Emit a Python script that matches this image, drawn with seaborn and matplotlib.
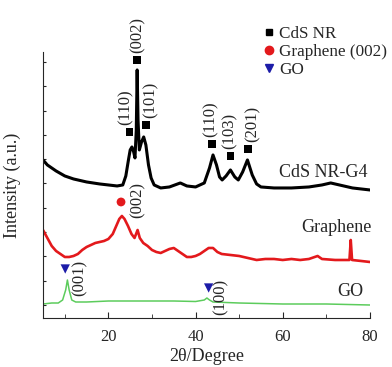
import numpy as np
import pandas as pd
import matplotlib
matplotlib.use("Agg")
import matplotlib.pyplot as plt
import seaborn as sns
from matplotlib.ticker import MultipleLocator
from matplotlib.lines import Line2D

sns.set_style("ticks")
plt.rcParams['font.family'] = ['Liberation Serif', 'DejaVu Serif']

# 2theta / intensity (arbitrary units, offset per curve)
tt_cds = [5, 6, 8, 10, 12, 15, 18, 20, 22, 23.3, 24.0, 24.6, 25.0, 25.4, 25.8, 26.1,
          26.4, 26.6, 26.8, 27.1, 27.6, 28.1, 28.6, 29.2, 29.8, 30.5, 32, 34, 36.5, 38,
          40, 42, 43.2, 44.0, 44.8, 45.5, 46.1, 47.0, 48.0, 49.0, 49.8, 50.8, 51.9, 53.0,
          54.0, 55, 58, 62, 66, 69, 71, 73, 76, 80]
int_cds = [158, 153, 147, 142, 139, 136, 134, 133, 132, 133, 142, 158, 168, 171, 166, 160,
           188, 248, 198, 168, 176, 181, 173, 153, 140, 133, 130, 131, 135, 132,
           131, 135, 150, 163, 153, 141, 138, 142, 148, 141, 138, 146, 158, 143,
           134, 131, 130, 130, 131, 133, 135, 133, 130, 128]

tt_gr = [5, 6, 7, 8, 9, 10, 11, 12, 13, 14, 15, 16, 17, 18, 19, 20, 21, 21.8, 22.5, 23.1,
         23.7, 24.5, 25.3, 26.0, 26.7, 27.2, 28, 29, 30, 31, 32, 33, 34, 35, 36, 37, 38,
         39, 40, 41, 42, 43, 44, 45, 46, 48, 50, 52, 54, 56, 58, 60, 62, 64, 66, 68, 69,
         72, 75.3, 75.6, 75.9, 78, 80]
int_gr = [88, 80, 72, 67, 64, 61, 61, 62, 64, 68, 71, 73, 75, 76, 77, 79, 84, 92, 99, 102,
          99, 92, 84, 80, 88, 80, 75, 72, 68, 66, 65, 67, 69, 70, 67, 64, 61,
          61, 62, 64, 67, 70, 70, 66, 64, 63, 62, 60, 58, 59, 59, 58, 59, 58, 59, 62, 59,
          58, 58, 78, 58, 57, 56]

tt_go = [5, 7, 8.5, 9.5, 10.2, 10.6, 11.0, 11.6, 12.5, 15, 20, 25, 30, 35, 40, 42, 42.6,
         43.2, 44, 50, 60, 70, 80]
int_go = [14, 15, 15, 18, 28, 38, 28, 18, 16, 16, 17, 17, 17, 17, 16.5, 18, 20,
          18, 16, 15, 14, 14, 13]

# peak markers
cds_pk_tt = [24.8, 26.5, 28.6, 43.8, 48.0, 52.0]
cds_pk_int = [186, 258, 193, 174, 162, 169]
cds_pk_lab = ["(110)", "(002)", "(101)", "(110)", "(103)", "(201)"]
cds_lab_tt = [23.85, 26.6, 29.6, 43.4, 47.8, 53.0]

gr_pk_tt = [22.9]
gr_pk_int = [116]
go_pk_tt = [10.1, 43.0]
go_pk_int = [49, 30]
go_pk_lab = ["(001)", "(100)"]
go_lab_tt = [13.5, 45.7]

fig = plt.figure(figsize=(3.92, 3.67), dpi=100)
ax = fig.add_axes([0.1097, 0.1335, 0.834, 0.725])

sns.lineplot(x=tt_cds, y=int_cds, ax=ax, color="black", lw=2.2)
sns.lineplot(x=tt_gr, y=int_gr, ax=ax, color="#e3191c", lw=1.9)
sns.lineplot(x=tt_go, y=int_go, ax=ax, color="#5ccc5c", lw=1.1)

sns.scatterplot(x=cds_pk_tt, y=cds_pk_int, ax=ax, marker="s", color="black", s=30,
                edgecolor="none", zorder=5)
sns.scatterplot(x=gr_pk_tt, y=gr_pk_int, ax=ax, marker="o", color="#e3191c", s=40,
                edgecolor="none", zorder=5)
sns.scatterplot(x=go_pk_tt, y=go_pk_int, ax=ax, marker="v", color="#1c1ca8", s=45,
                edgecolor="none", zorder=5)

for lx, py, lab in zip(cds_lab_tt, cds_pk_int, cds_pk_lab):
    ax.text(lx, py + 7, lab, rotation=90, ha="center", va="bottom", fontsize=12,
            clip_on=False)
ax.text(26.6, 100, "(002)", rotation=90, ha="center", va="bottom", fontsize=12)
for lx, py, lab in zip(go_lab_tt, go_pk_int, go_pk_lab):
    ax.text(lx, py - 27, lab, rotation=90, ha="center", va="bottom", fontsize=12)

ax.text(79.5, 145, "CdS NR-G4", ha="right", va="center", fontsize=13)
ax.text(80.3, 90, "Graphene", ha="right", va="center", fontsize=13)
ax.text(78.5, 26, "GO", ha="right", va="center", fontsize=13)

handles = [
    Line2D([], [], ls="none", marker="s", color="black", markersize=5),
    Line2D([], [], ls="none", marker="o", color="#e3191c", markersize=6),
    Line2D([], [], ls="none", marker="v", color="#1c1ca8", markersize=6),
]
fig.legend(handles, ["CdS NR", "Graphene (002)", "GO"], loc="upper left",
           bbox_to_anchor=(264 / 392, 1 - 26 / 367), frameon=False, fontsize=12.3,
           handlelength=0.6, handletextpad=0.3, labelspacing=0.12, borderpad=0,
           borderaxespad=0)

ax.set_xlim(5, 80)
ax.set_ylim(0, 266)
ax.xaxis.set_major_locator(MultipleLocator(20))
ax.xaxis.set_minor_locator(MultipleLocator(10))
ax.set_yticks(np.arange(13, 260, 24.3))
ax.set_yticklabels([])
ax.tick_params(direction="in", length=4, labelsize=12, pad=8)
ax.tick_params(which="minor", direction="in", length=3)
ax.tick_params(axis="y", length=2.5)
sns.despine(ax=ax)
ax.set_xlabel("2θ/Degree", fontsize=13, labelpad=2)
ax.set_ylabel("Intensity (a.u.)", fontsize=13, labelpad=8)

fig.savefig("out.png", dpi=100)
